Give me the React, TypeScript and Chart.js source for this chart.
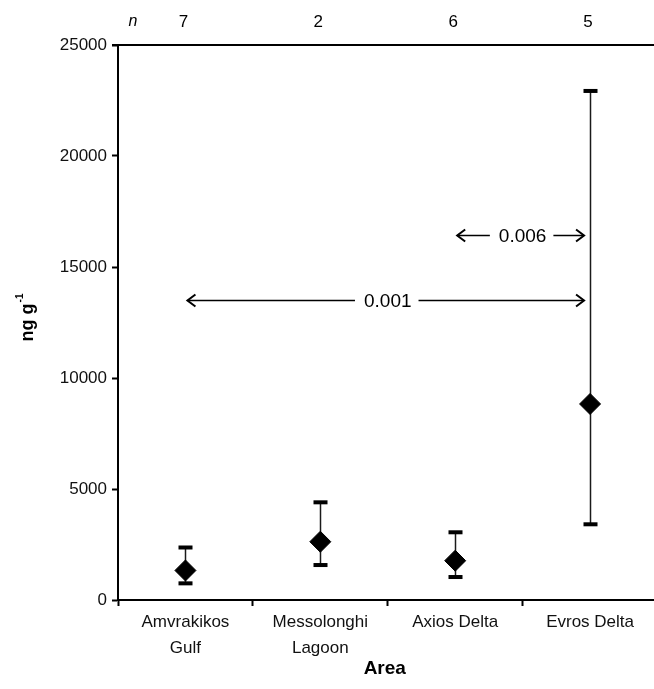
import React, { useEffect, useRef } from "react";
import { Chart, registerables } from "chart.js";

Chart.register(...registerables);

// ---- data ----
const categories: string[][] = [["Amvrakikos", "Gulf"], ["Messolonghi", "Lagoon"], ["Axios Delta"], ["Evros Delta"]];
const sampleSizes = [7, 2, 6, 5];
const means = [1330, 2625, 1770, 8830];
const upperBars = [2365, 4400, 3050, 22930];
const lowerBars = [750, 1575, 1035, 3410];
const yMin = 0;
const yMax = 25000;
const yStep = 5000;
const compFrom = [0, 2];
const compTo = [3, 3];
const compY = [13500, 16450];
const compLabels = ["0.001", "0.006"];
const xTitle = "Area";
const yTitleMain = "ng g";
const yTitleSup = "-1";

const FONT = "'Liberation Sans', Arial, sans-serif";

function drawArrowHead(ctx: CanvasRenderingContext2D, x: number, y: number, dir: number) {
  ctx.beginPath();
  ctx.moveTo(x - dir * 8, y - 6);
  ctx.lineTo(x, y);
  ctx.lineTo(x - dir * 8, y + 6);
  ctx.stroke();
}

const overlayPlugin = {
  id: "overlay",
  beforeDatasetsDraw(chart: any) {
    const { ctx, chartArea } = chart;
    const x = chart.scales.x;
    const y = chart.scales.y;
    ctx.save();
    // top frame line
    ctx.strokeStyle = "#000";
    ctx.lineWidth = 2;
    const yt = y.getPixelForValue(yMax);
    ctx.beginPath();
    ctx.moveTo(chartArea.left - 6, yt);
    ctx.lineTo(chartArea.right + 4, yt);
    ctx.stroke();
    // error bars
    ctx.strokeStyle = "#1a1a1a";
    ctx.fillStyle = "#000";
    ctx.lineWidth = 1.5;
    for (let i = 0; i < means.length; i++) {
      const px = Math.round(x.getPixelForValue(i)) + 0.5;
      const yu = y.getPixelForValue(upperBars[i]);
      const yl = y.getPixelForValue(lowerBars[i]);
      ctx.beginPath();
      ctx.moveTo(px, yu);
      ctx.lineTo(px, yl);
      ctx.stroke();
      ctx.fillRect(px - 7, yu - 2, 14, 4);
      ctx.fillRect(px - 7, yl - 2, 14, 4);
    }
    ctx.restore();
  },
  afterDraw(chart: any) {
    const { ctx, chartArea } = chart;
    const x = chart.scales.x;
    const y = chart.scales.y;
    ctx.save();
    ctx.fillStyle = "#000";
    ctx.textBaseline = "middle";
    // n row
    ctx.font = `italic 16px ${FONT}`;
    ctx.textAlign = "center";
    ctx.fillText("n", 133, 22);
    ctx.font = `17px ${FONT}`;
    for (let i = 0; i < sampleSizes.length; i++) {
      ctx.fillText(String(sampleSizes[i]), x.getPixelForValue(i) - 2, 22);
    }
    // comparison arrows
    ctx.strokeStyle = "#000";
    ctx.lineWidth = 1.5;
    ctx.font = `19px ${FONT}`;
    for (let k = 0; k < compLabels.length; k++) {
      const x1 = x.getPixelForValue(compFrom[k]) + 2;
      const x2 = x.getPixelForValue(compTo[k]) - 6;
      const py = Math.round(y.getPixelForValue(compY[k])) + 0.5;
      const mid = (x.getPixelForValue(compFrom[k]) + x.getPixelForValue(compTo[k])) / 2;
      const tw = ctx.measureText(compLabels[k]).width;
      ctx.fillText(compLabels[k], mid, py + 1);
      ctx.beginPath();
      ctx.moveTo(x1, py);
      ctx.lineTo(mid - tw / 2 - 9, py);
      ctx.moveTo(mid + tw / 2 + 7, py);
      ctx.lineTo(x2, py);
      ctx.stroke();
      ctx.lineWidth = 2;
      drawArrowHead(ctx, x1, py, -1);
      drawArrowHead(ctx, x2, py, 1);
      ctx.lineWidth = 1.5;
    }
    // x title
    ctx.font = `bold 19px ${FONT}`;
    ctx.textAlign = "center";
    ctx.fillText(xTitle, (chartArea.left + chartArea.right) / 2 - 3, 669);
    // y title (rotated)
    ctx.translate(28, 318);
    ctx.rotate(-Math.PI / 2);
    ctx.font = `bold 18px ${FONT}`;
    const w1 = ctx.measureText(yTitleMain).width;
    ctx.font = `bold 10px ${FONT}`;
    const w2 = ctx.measureText(yTitleSup).width;
    const start = -(w1 + w2) / 2;
    ctx.textAlign = "left";
    ctx.textBaseline = "alphabetic";
    ctx.font = `bold 18px ${FONT}`;
    ctx.fillText(yTitleMain, start, 5);
    ctx.font = `bold 10px ${FONT}`;
    ctx.fillText(yTitleSup, start + w1 + 1, -5);
    ctx.restore();
  },
};

export default function App() {
  const ref = useRef<HTMLCanvasElement | null>(null);
  useEffect(() => {
    if (!ref.current) return;
    const chart = new Chart(ref.current, {
      type: "line",
      data: {
        labels: categories as any,
        datasets: [
          {
            data: means,
            showLine: false,
            pointStyle: "rectRot",
            pointRadius: 10.5,
            pointHoverRadius: 10.5,
            pointBackgroundColor: "#000",
            pointBorderColor: "#000",
            pointBorderWidth: 1,
          },
        ],
      },
      options: {
        responsive: true,
        maintainAspectRatio: false,
        animation: false,
        events: [],
        layout: { padding: { top: 45, left: 0, right: 4, bottom: 0 } },
        plugins: { legend: { display: false }, tooltip: { enabled: false }, title: { display: false } },
        scales: {
          x: {
            type: "category",
            offset: true,
            afterFit: (s: any) => {
              s.height = 89;
            },
            grid: {
              offset: true,
              drawOnChartArea: false,
              drawTicks: true,
              tickLength: 6,
              tickColor: "#000",
              tickWidth: 2,
              color: "#000",
            },
            border: { display: true, color: "#000", width: 2 },
            ticks: {
              color: "#111",
              font: { family: FONT, size: 17, lineHeight: 1.55 },
              padding: 3,
              maxRotation: 0,
              autoSkip: false,
            },
          },
          y: {
            min: yMin,
            max: yMax,
            afterFit: (s: any) => {
              s.width = 118;
            },
            grid: {
              drawOnChartArea: false,
              drawTicks: true,
              tickLength: 6,
              tickColor: "#000",
              tickWidth: 2,
              color: "#000",
            },
            border: { display: true, color: "#000", width: 2 },
            ticks: {
              stepSize: yStep,
              color: "#111",
              font: { family: FONT, size: 17 },
              padding: 5,
              callback: (v: any) => String(v),
            },
          },
        },
      },
      plugins: [overlayPlugin],
    });
    return () => chart.destroy();
  }, []);
  return (
    <div style={{ position: "absolute", left: 0, top: 0, width: 654, height: 689, overflow: "hidden", background: "#fff" }}>
      <div style={{ position: "relative", width: 669, height: 689 }}>
        <canvas ref={ref} />
      </div>
    </div>
  );
}
